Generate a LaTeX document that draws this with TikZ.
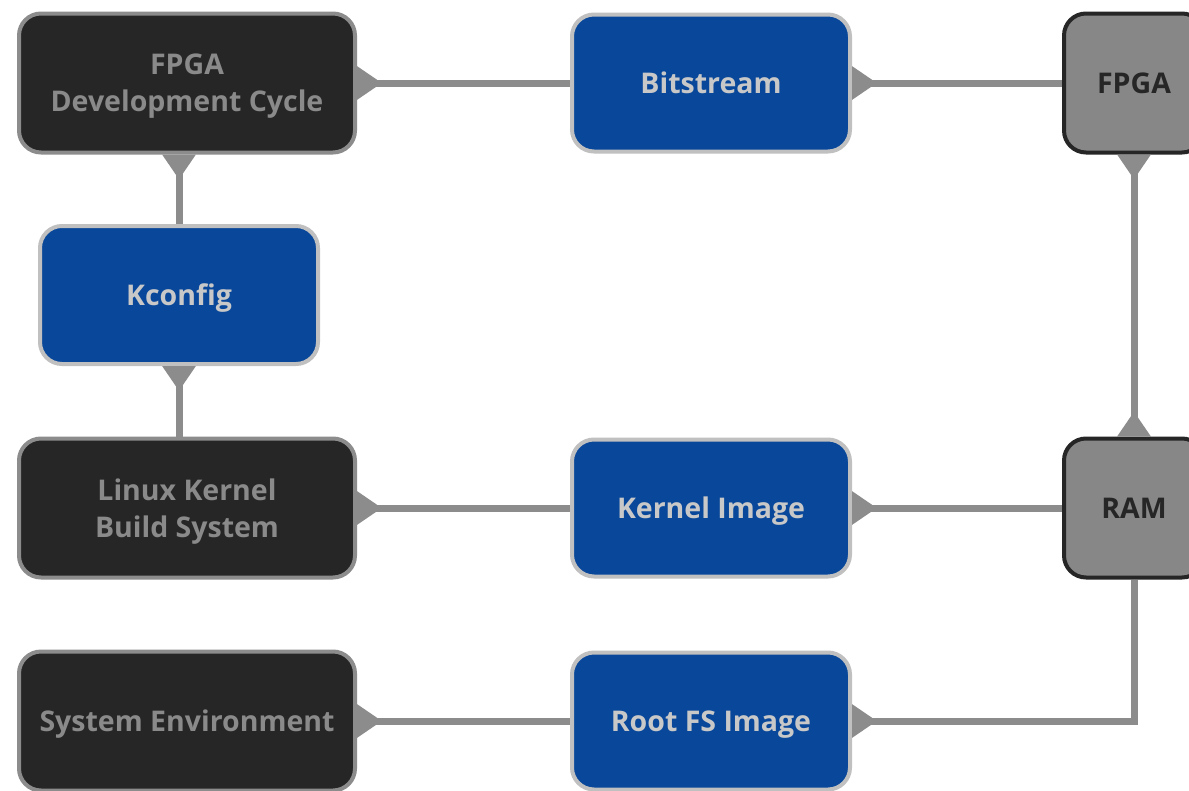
\documentclass[tikz,border=0pt]{standalone}
\usepackage{fontspec}
\setmainfont{Open Sans}[BoldFont={Open Sans Bold}]
\usetikzlibrary{arrows.meta}
\definecolor{darkfill}{HTML}{262626}
\definecolor{darkline}{HTML}{8C8C8C}
\definecolor{darktext}{HTML}{8A8A8A}
\definecolor{bluefill}{HTML}{08479A}
\definecolor{blueline}{HTML}{C0C0C0}
\definecolor{bluetext}{HTML}{C8C8C8}
\definecolor{grayfill}{HTML}{878787}
\definecolor{grayline}{HTML}{262626}
\definecolor{conn}{HTML}{8C8C8C}
\tikzset{
  box/.style={rectangle, rounded corners=22pt, line width=4pt, align=center,
    font=\bfseries\fontsize{28.5}{37}\selectfont},
  oneline/.style={text depth=0pt},
  darkbox/.style={box, fill=darkfill, draw=darkline, text=darktext, minimum width=336pt, minimum height=139pt},
  bluebox/.style={box, fill=bluefill, draw=blueline, text=bluetext, minimum width=278pt, minimum height=137pt},
  graybox/.style={box, fill=grayfill, draw=grayline, text=grayline, minimum width=140pt, minimum height=139pt},
  conn/.style={draw=conn, line width=7pt},
  tipb/.tip={Triangle[reversed, length=25pt, width=32pt]}
}
\begin{document}
\begin{tikzpicture}[x=1pt, y=-1pt]
\useasboundingbox (0,0) rectangle (1189,790);
\clip (0,0) rectangle (1189,790);
\fill[white] (0,0) rectangle (1189,790);
% nodes
\node[darkbox] (dev) at (187,83) {FPGA\\\smash{Development Cycle}};
\node[bluebox, oneline] (bit) at (711,83) {Bitstream};
\node[graybox, oneline] (fpga) at (1134,83) {FPGA};
\node[bluebox, oneline, minimum height=138pt] (kcfg) at (179,295) {Kconfig};
\node[darkbox] (lkb) at (187,508) {Linux Kernel\\\smash{Build System}};
\node[bluebox, oneline] (kimg) at (711,508) {Kernel Image};
\node[graybox, oneline] (ram) at (1134,508) {RAM};
\node[darkbox, oneline] (sys) at (187,721) {System Environment};
\node[bluebox, oneline] (rfs) at (711,721) {Root FS Image};
% connectors
\draw[conn, {tipb}-] (dev) -- (bit);
\draw[conn, {tipb}-] (bit) -- (fpga);
\draw[conn, {tipb}-] (dev.south -| kcfg.north) -- (kcfg.north);
\draw[conn, {tipb}-] (kcfg.south) -- (kcfg.south |- lkb.north);
\draw[conn, {tipb}-{tipb}] (fpga) -- (ram);
\draw[conn, {tipb}-] (lkb) -- (kimg);
\draw[conn, {tipb}-] (kimg) -- (ram);
\draw[conn, {tipb}-] (sys) -- (rfs);
\draw[conn, {tipb}-] (rfs.east) -| (ram.south);
\end{tikzpicture}
\end{document}
